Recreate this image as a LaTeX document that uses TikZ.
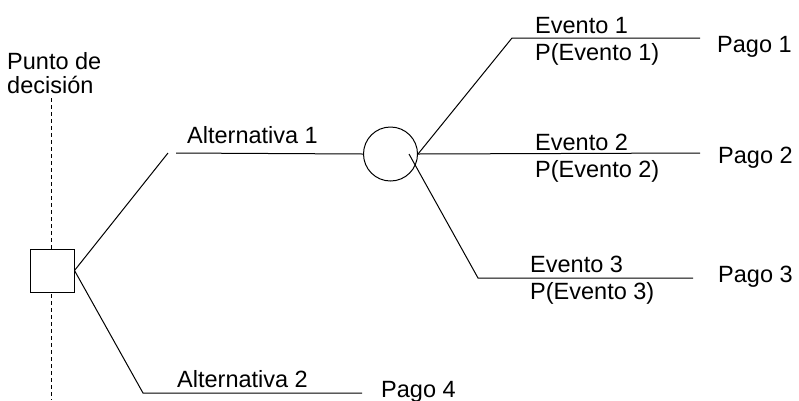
\documentclass[tikz,border=0pt]{standalone}
\usepackage{fontspec}
\setmainfont{Liberation Sans}
\begin{document}
\begin{tikzpicture}[x=1pt,y=-1pt,
  lbl/.style={anchor=base west, inner sep=0pt, font=\fontsize{23.5}{28}\selectfont},
  branch/.style={draw=black, line width=1pt},
  decbox/.style={draw, fill=white, line width=1pt, minimum width=44pt, minimum height=43pt, inner sep=0pt},
  chancenode/.style={draw, fill=white, circle, minimum size=54pt, inner sep=0pt, line width=1pt},
  guide/.style={draw, dash pattern=on 4pt off 3pt, line width=0.9pt}]
\useasboundingbox (0,0) rectangle (799,400);

% vertical guide through the decision point
\coordinate (gtop) at (51,98);
\coordinate (gbot) at (51,400);
\draw[guide] (gtop) -- (gbot);

% decision and chance nodes
\node[decbox] (dec) at (52,270.5) {};
\node[chancenode] (chance) at (390.5,154) {};

% bend and end points of the branches
\coordinate (a1bend) at (168,153);
\coordinate (a1start) at (176,153);
\coordinate (a2bend) at (143,393);
\coordinate (a2end) at (362,393);
\coordinate (e1bend) at (512,38);
\coordinate (e1end) at (700,38);
\coordinate (e2end) at (700,153);
\coordinate (e3start) at (409,154);
\coordinate (e3bend) at (478,278);
\coordinate (e3end) at (693,278);

% branches
\draw[branch] (dec.east) -- (a1bend);
\draw[branch] (a1start) -- (chance.west);
\draw[branch] (dec.east) -- (a2bend) -- (a2end);
\draw[branch] (chance.east) -- (e1bend) -- (e1end);
\draw[branch] (chance.east) -- (e2end);
\draw[branch] (e3start) -- (e3bend) -- (e3end);

% labels
\node[lbl] (dp1) at (7,69) {Punto de};
\node[lbl] (dp2) at (7,93) {decisión};
\node[lbl] (alt1) at (187,143) {Alternativa 1};
\node[lbl] (alt2) at (177,387) {Alternativa 2};
\node[lbl] (pago4) at (381,397) {Pago 4};
\node[lbl] (ev1) at (535,33) {Evento 1};
\node[lbl] (pev1) at (535,60) {P(Evento 1)};
\node[lbl] (pago1) at (717,52) {Pago 1};
\node[lbl] (ev2) at (535,150) {Evento 2};
\node[lbl] (pev2) at (535,177) {P(Evento 2)};
\node[lbl] (pago2) at (718,163) {Pago 2};
\node[lbl] (ev3) at (530,272) {Evento 3};
\node[lbl] (pev3) at (530,299) {P(Evento 3)};
\node[lbl] (pago3) at (718,282) {Pago 3};
\end{tikzpicture}
\end{document}
